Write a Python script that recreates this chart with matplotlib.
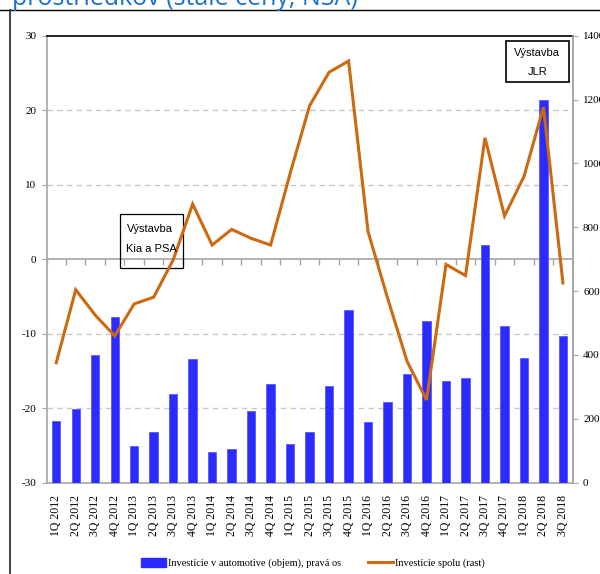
import numpy as np
import matplotlib
matplotlib.use("Agg")
import matplotlib.pyplot as plt
from matplotlib.lines import Line2D
from matplotlib.patches import Rectangle

# data
quarters = ['1Q 2012', '2Q 2012', '3Q 2012', '4Q 2012',
            '1Q 2013', '2Q 2013', '3Q 2013', '4Q 2013',
            '1Q 2014', '2Q 2014', '3Q 2014', '4Q 2014',
            '1Q 2015', '2Q 2015', '3Q 2015', '4Q 2015',
            '1Q 2016', '2Q 2016', '3Q 2016', '4Q 2016',
            '1Q 2017', '2Q 2017', '3Q 2017', '4Q 2017',
            '1Q 2018', '2Q 2018', '3Q 2018']
automotive = [192, 231, 401, 519, 116, 159, 277, 387, 96, 105, 223, 310, 122,
              159, 304, 542, 189, 253, 341, 508, 320, 327, 745, 492, 390, 1200, 458]
spolu = [-13.9, -4.1, -7.5, -10.3, -6.0, -5.1, -0.1, 7.4, 1.9, 4.0, 2.8, 1.9,
         11.5, 20.6, 25.1, 26.6, 3.7, -5.2, -13.7, -18.9, -0.7, -2.2, 16.3,
         5.8, 11.1, 20.4, -3.2]
left_ticks = [-30, -20, -10, 0, 10, 20, 30]
right_ticks = [0, 200, 400, 600, 800, 1000, 1200, 1400]

lab_auto = 'Investície v automotive (objem), pravá os'
lab_spolu = 'Investície spolu (rast)'

serif = 'Liberation Serif'
boxfont = 'Liberation Sans'
bar_col = '#2b2bff'
line_col = '#cc6a12'
grey = '#a6a6a6'

x = np.arange(len(quarters))

fig = plt.figure(figsize=(6, 5.74), dpi=100)
pos = [46.5 / 600, 1 - 482.7 / 574, 526.2 / 600, 447 / 574]

# bottom layer: left scale, grid, zero line
ax = fig.add_axes(pos)
ax.set_zorder(0)
ax.set_ylim(-30, 30)
ax.set_xlim(-0.5, len(quarters) - 0.5)
ax.set_yticks(left_ticks)
ax.set_yticklabels([str(v) for v in left_ticks], fontfamily=serif, fontsize=8)
ax.set_xticks(x)
ax.set_xticklabels(quarters, rotation=90, fontfamily=serif, fontsize=8.5)
ax.tick_params(axis='x', length=0, pad=9)
ax.tick_params(axis='y', length=3.5, pad=4, color=grey)
for v in [-20, -10, 10, 20]:
    ax.axhline(v, color='#c8c8c8', lw=1.0, ls=(0, (4, 3)))
for s in ['left', 'bottom', 'right']:
    ax.spines[s].set_color(grey)
    ax.spines[s].set_linewidth(1.2)
ax.spines['top'].set_color('black')
ax.spines['top'].set_linewidth(1.2)

# zero line with category tick marks
secax = ax.secondary_xaxis(0.5)
secax.set_xticks(np.arange(len(quarters) + 1) - 0.5)
secax.set_xticklabels([])
secax.tick_params(direction='in', length=4.5, color=grey, width=1)
for s in secax.spines.values():
    s.set_color(grey)
    s.set_linewidth(1.2)

# middle layer: bars on right scale
ax2 = ax.twinx()
ax2.set_zorder(1)
ax2.patch.set_visible(False)
ax2.set_ylim(0, 1400)
ax2.set_yticks(right_ticks)
ax2.set_yticklabels([str(v) for v in right_ticks], fontfamily=serif, fontsize=8)
ax2.tick_params(axis='y', length=3.5, pad=4, color=grey)
for s in ['left', 'top', 'bottom']:
    ax2.spines[s].set_visible(False)
ax2.spines['right'].set_color(grey)
ax2.spines['right'].set_linewidth(1.2)
ax2.bar(x, automotive, width=0.43, color=bar_col, edgecolor='#5a5aff', linewidth=0.6)

# top layer: line on left scale
ax3 = fig.add_axes(pos, sharex=ax, sharey=ax)
ax3.set_zorder(2)
ax3.patch.set_visible(False)
ax3.set_axis_off()
ax3.plot(x, spolu, color=line_col, lw=2.2, solid_joinstyle='miter')

# annotation boxes
ax3.add_patch(Rectangle((0.140, 0.480), 0.119, 0.121, transform=ax3.transAxes,
                        fill=False, ec='black', lw=0.9, clip_on=False))
ax3.text(0.152, 0.568, 'Výstavba', transform=ax3.transAxes, fontsize=8,
         family=boxfont, va='center', ha='left')
ax3.text(0.152, 0.523, 'Kia a PSA', transform=ax3.transAxes, fontsize=8,
         family=boxfont, va='center', ha='left')
ax3.add_patch(Rectangle((0.873, 0.896), 0.120, 0.093, transform=ax3.transAxes,
                        fill=False, ec='black', lw=1.2, clip_on=False))
ax3.text(0.933, 0.961, 'Výstavba', transform=ax3.transAxes, fontsize=8,
         family=boxfont, va='center', ha='center')
ax3.text(0.933, 0.919, 'JLR', transform=ax3.transAxes, fontsize=8,
         family=boxfont, va='center', ha='center')

# legend
handles = [Rectangle((0, 0), 1, 1, color=bar_col),
           Line2D([], [], color=line_col, lw=2.2)]
fig.legend(handles, [lab_auto, lab_spolu], loc='center', ncol=2,
           bbox_to_anchor=(313 / 600, 1 - 563 / 574), frameon=False,
           prop={'family': serif, 'size': 7.5}, handlelength=2.4,
           handleheight=0.9, columnspacing=2.6, handletextpad=0.2)

# title remains cut by the crop, plus frame lines
fig.text(12 / 600, 1 - 5 / 574, 'prostriedkov (stále ceny, NSA)', color='#1a73cc',
         fontsize=18, family='Open Sans', va='baseline', ha='left')
fig.add_artist(Line2D([0, 1], [1 - 9.5 / 574, 1 - 9.5 / 574], color='black', lw=1.0))
fig.add_artist(Line2D([10 / 600, 10 / 600], [0, 1 - 9.5 / 574], color='#333333', lw=1.3))

fig.savefig('out.png', dpi=100)
